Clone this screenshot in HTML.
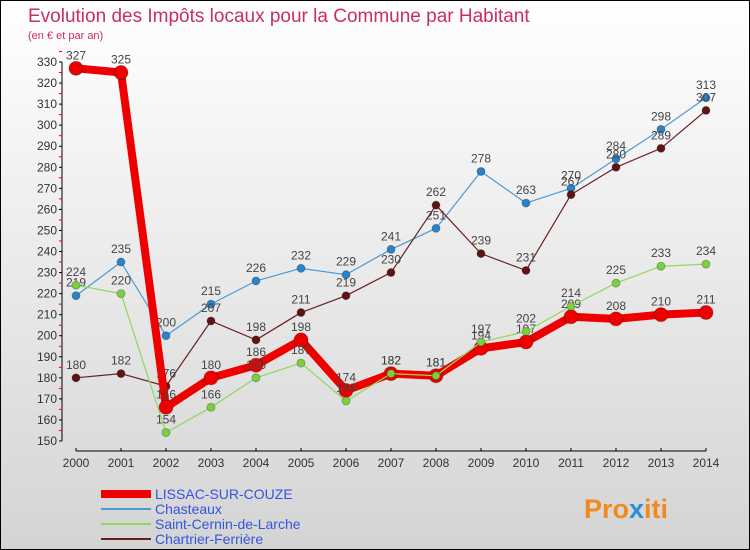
<!DOCTYPE html>
<html><head><meta charset="utf-8"><style>
body{margin:0;width:750px;height:550px;overflow:hidden;font-family:"Liberation Sans",sans-serif}
#wrap{position:relative;width:748px;height:548px;border:1px solid #000;background:linear-gradient(#fff,#d4d4d4)}
svg{position:absolute;left:0;top:0}
</style></head><body>
<div id="wrap">
<svg id="chart" width="748" height="548">
<text x="27" y="21" font-size="19" fill="#c8305a">Evolution des Impôts locaux pour la Commune par Habitant</text>
<text x="27" y="38" font-size="11" fill="#c8305a">(en € et par an)</text>
<g id="axes"></g><g id="series"></g><g id="legend"></g>
<text x="583" y="517" font-size="27" font-weight="bold" fill="#f08a1c">Pro<tspan fill="#2a8fd6">x</tspan>iti</text>
</svg></div>
<script>
const years=[2000,2001,2002,2003,2004,2005,2006,2007,2008,2009,2010,2011,2012,2013,2014];
const yTicks=[150,160,170,180,190,200,210,220,230,240,250,260,270,280,290,300,310,320,330];
const lissac=[327,325,166,180,186,198,174,182,181,194,197,209,208,210,211];
const chasteaux=[219,235,200,215,226,232,229,241,251,278,263,270,284,298,313];
const cernin=[224,220,154,166,180,187,169,182,181,197,202,214,225,233,234];
const chartrier=[180,182,176,207,198,211,219,230,262,239,231,267,280,289,307];
const NS="http://www.w3.org/2000/svg";
const X=i=>75+i*45, Y=v=>61+(330-v)*379/180;
function mk(t,a,p){const e=document.createElementNS(NS,t);for(const k in a)e.setAttribute(k,a[k]);p.appendChild(e);return e;}
const ax=document.getElementById('axes');
const yl=mk('line',{x1:61,y1:61,x2:61,y2:440,stroke:'#000'},ax);


const xl=mk('line',{x1:75,y1:450,x2:705,y2:450,stroke:'#000'},ax);


yTicks.forEach(v=>{mk('line',{x1:58,y1:Y(v),x2:61,y2:Y(v),stroke:'#000'},ax);
 mk('line',{x1:58,y1:Y(v+5),x2:61,y2:Y(v+5),stroke:'#e00'},ax);
 const t=mk('text',{x:56,y:Y(v)+4,'font-size':12,fill:'#333','text-anchor':'end'},ax);t.textContent=v;
 
 });
years.forEach((yr,i)=>{mk('line',{x1:X(i),y1:447,x2:X(i),y2:450,stroke:'#000'},ax);
 const t=mk('text',{x:X(i),y:466,'font-size':12,fill:'#333','text-anchor':'middle'},ax);t.textContent=yr;
 
 });
const sg=document.getElementById('series');
function draw(data,color,w,r,name,dot){
 const g=mk('g',{},sg);
 
 
 mk('polyline',{points:data.map((v,i)=>X(i)+','+Y(v)).join(' '),fill:'none',stroke:color,'stroke-width':w,'stroke-linejoin':'round'},g);
 data.forEach((v,i)=>{const c=mk('circle',{cx:X(i),cy:Y(v),r:r,fill:dot,stroke:'rgba(0,0,0,0.25)'},g);
  
  
  const t=mk('text',{x:X(i),y:Y(v)-9,'font-size':12,fill:'#444','text-anchor':'middle'},g);t.textContent=v;});
}
draw(chasteaux,'#4a9ad6',1.2,4,'series-chasteaux','#2a82c8');
draw(chartrier,'#6b2020',1.2,4,'series-chartrier-ferriere','#5c1414');
draw(lissac,'#ee0000',8,7,'series-lissac-sur-couze','#ee0000');
draw(cernin,'#8ed860',1.2,4,'series-saint-cernin-de-larche','#7ad040');
const lg=document.getElementById('legend');
[['LISSAC-SUR-COUZE','#ee0000',8],['Chasteaux','#4a9ad6',2],['Saint-Cernin-de-Larche','#8ed860',2],['Chartrier-Ferrière','#6b2020',2]].forEach((d,i)=>{
 const y=493+i*15;
 const g=mk('g',{},lg);
 
 
 mk('line',{x1:100,y1:y,x2:150,y2:y,stroke:d[1],'stroke-width':d[2]},g);
 const t=mk('text',{x:154,y:y+5,'font-size':14,fill:'#3355dd'},g);t.textContent=d[0];});
</script>
</body></html>
